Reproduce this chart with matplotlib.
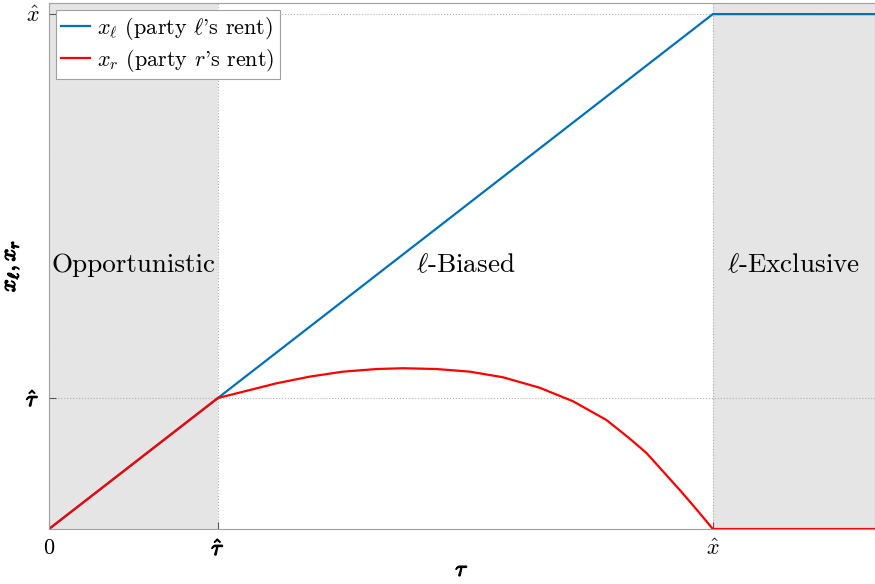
import matplotlib.pyplot as plt
import matplotlib.patheffects as pe

plt.rcParams['mathtext.fontset'] = 'cm'
plt.rcParams['font.family'] = ['cmr10', 'DejaVu Serif']
plt.rcParams['axes.formatter.use_mathtext'] = True

# thresholds (tau_hat taken as unit)
tau_hat = 1.0
x_hat = 3.93
tau_max = 4.89

# party l's rent
tau_l = [0.0, tau_hat, x_hat, tau_max]
x_l = [0.0, tau_hat, x_hat, x_hat]

# party r's rent
tau_r = [0.0, 1.0, 1.15, 1.347, 1.544, 1.741, 1.939, 2.096, 2.294, 2.491,
         2.688, 2.905, 3.102, 3.3, 3.438, 3.537, 3.635, 3.734, 3.833, 3.93, 4.89]
x_r = [0.0, 1.0, 1.048, 1.112, 1.163, 1.201, 1.221, 1.227, 1.221, 1.201,
       1.158, 1.078, 0.975, 0.832, 0.69, 0.58, 0.44, 0.298, 0.15, 0.0, 0.0]

regions = ['Opportunistic', r'$\ell$-Biased', r'$\ell$-Exclusive']

bold = [pe.withStroke(linewidth=0.9, foreground='black')]

fig = plt.figure(figsize=(8.75, 5.84), dpi=100)
ax = fig.add_axes([0.056, 0.0942, 0.944, 0.9007])

ax.axvspan(0, tau_hat, color='#e5e5e5', lw=0, zorder=0)
ax.axvspan(x_hat, tau_max, color='#e5e5e5', lw=0, zorder=0)

ax.plot(tau_l, x_l, color='#0072BD', lw=1.6, label=r"$x_\ell$ (party $\ell$'s rent)")
ax.plot(tau_r, x_r, color='#FF0000', lw=1.6, label=r"$x_r$ (party $r$'s rent)")

ymid = 2.015
ax.text(tau_hat / 2, ymid, regions[0], ha='center', va='center', fontsize=19.5)
ax.text((tau_hat + x_hat) / 2, ymid, regions[1], ha='center', va='center', fontsize=19.5)
ax.text((x_hat + tau_max) / 2, ymid, regions[2], ha='center', va='center', fontsize=19.5)

ax.set_xlim(0, tau_max)
ax.set_ylim(0, 4.015)
ax.set_xticks([0, tau_hat, x_hat])
ax.set_xticklabels(['$0$', r'$\hat{\tau}$', r'$\hat{x}$'])
ax.set_yticks([tau_hat, x_hat])
ax.set_yticklabels([r'$\hat{\tau}$', r'$\hat{x}$'])
ax.tick_params(direction='in', length=5, labelsize=16, color='#555555', pad=7)
for lab in ax.get_xticklabels()[1:2] + ax.get_yticklabels()[0:1]:
    lab.set_path_effects(bold)
ax.grid(True, linestyle=':', color='#b0b0b0', lw=0.8)
ax.set_axisbelow(True)
for s in ax.spines.values():
    s.set_color('#a0a0a0')

xl = ax.set_xlabel(r'$\tau$', fontsize=16, labelpad=1)
yl = ax.set_ylabel(r'$x_\ell, x_r$', fontsize=16, labelpad=3)
xl.set_path_effects(bold)
yl.set_path_effects(bold)

leg = ax.legend(loc='upper left', fontsize=16, handlelength=1.3, handletextpad=0.3,
                borderpad=0.25, labelspacing=0.2, fancybox=False, borderaxespad=0.3)
leg.get_frame().set_edgecolor('#a0a0a0')
leg.get_frame().set_linewidth(0.8)
leg.get_frame().set_alpha(1)

plt.savefig('out.png', dpi=100)
